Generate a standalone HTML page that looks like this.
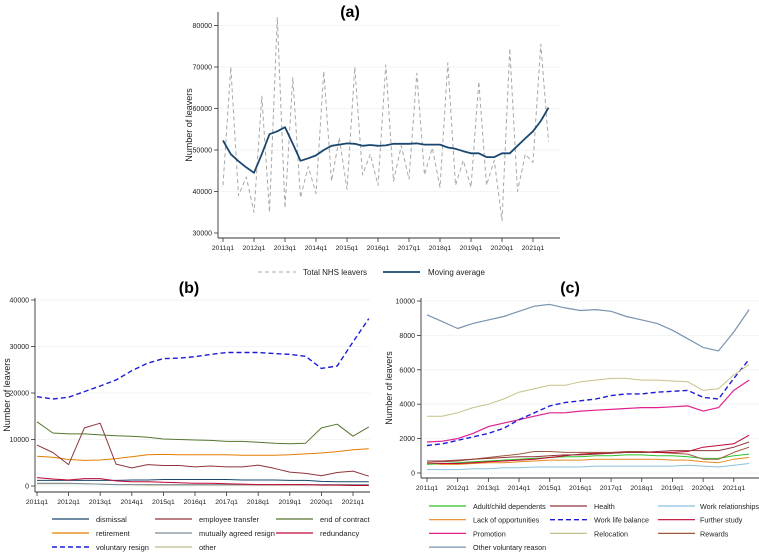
<!DOCTYPE html>
<html><head><meta charset="utf-8"><style>
html,body{margin:0;padding:0;background:#fff;}
svg{display:block;font-family:"Liberation Sans",sans-serif;}
</style></head><body>
<svg id="chart" width="759" height="553" viewBox="0 0 759 553">
<text x="350" y="17" font-size="16" font-weight="bold" text-anchor="middle">(a)</text>
<text x="189" y="293" font-size="16" font-weight="bold" text-anchor="middle">(b)</text>
<text x="570" y="293" font-size="16" font-weight="bold" text-anchor="middle">(c)</text>
<g id="pa"></g>
<g id="pb"></g>
<g id="pc"></g>
</svg>
<script>
const xLabels=["2011q1","2012q1","2013q1","2014q1","2015q1","2016q1","2017q1","2018q1","2019q1","2020q1","2021q1"];
const totalLeavers=[41500,70000,39000,43500,35000,63000,35000,82000,36000,67500,38500,46000,39500,69000,42500,53000,40500,70000,44000,49000,41500,70500,42500,51000,43000,68500,44000,50500,41000,71000,41500,47500,41000,66500,41500,47500,33000,74500,40000,49000,47000,75500,52000];
const movingAvg=[52300,49000,47300,45800,44500,49000,53800,54500,55500,51500,47400,48000,48700,50000,51000,51300,51600,51500,51000,51200,51000,51100,51500,51500,51500,51600,51300,51300,51300,50600,50300,49700,49200,49200,48300,48300,49200,49200,51000,52800,54500,57000,60200];
const ticksA=[30000,40000,50000,60000,70000,80000];
const qIdx=[0,2,4,6,8,10,12,14,16,18,20,22,24,26,28,30,32,34,36,38,40,42];
const bVoluntary=[19200,18700,19100,20300,21500,22800,24800,26400,27400,27500,27800,28300,28700,28700,28700,28500,28300,27900,25300,25800,31000,36000];
const bEndContract=[13800,11400,11200,11200,11000,10800,10700,10500,10100,10000,9900,9800,9600,9600,9400,9200,9100,9200,12500,13300,10700,12700];
const bTransfer=[8800,7200,4600,12500,13500,4700,3900,4600,4400,4400,4100,4300,4100,4100,4500,3800,3000,2700,2200,2900,3200,2100];
const bRetirement=[6400,6200,5700,5500,5600,5900,6300,6700,6800,6700,6700,6700,6700,6600,6600,6600,6700,6900,7100,7400,7800,8000];
const bDismissal=[1200,1200,1200,1200,1200,1200,1300,1300,1400,1400,1400,1400,1400,1300,1300,1300,1200,1200,1000,900,900,900];
const bMutual=[600,600,600,500,400,300,300,300,300,300,300,300,300,300,300,300,300,300,300,300,300,300];
const bRedundancy=[1800,1500,1300,1600,1600,1100,900,900,800,700,600,600,500,400,300,300,300,300,200,200,100,100];
const bOther=[500,500,500,500,400,300,300,200,200,200,200,200,200,200,200,200,200,200,300,300,300,300];
const ticksB=[0,10000,20000,30000,40000];
const cOtherVol=[9200,8800,8400,8700,8900,9100,9400,9700,9800,9600,9450,9500,9400,9100,8900,8700,8300,7800,7300,7100,8200,9500];
const cRelocation=[3300,3300,3500,3800,4000,4300,4700,4900,5100,5100,5300,5400,5500,5500,5400,5400,5350,5300,4800,4900,5700,6300];
const cWorkLife=[1600,1700,1900,2100,2300,2600,3100,3500,3900,4100,4200,4300,4500,4600,4600,4700,4750,4800,4400,4300,5500,6600];
const cPromotion=[1800,1850,2000,2300,2700,2900,3100,3300,3500,3500,3600,3650,3700,3750,3800,3800,3850,3900,3600,3800,4800,5400];
const cHealth=[700,700,750,800,850,900,950,950,1000,1050,1050,1100,1150,1200,1200,1250,1300,1300,1300,1300,1500,1800];
const cFurther=[600,550,550,600,650,700,750,800,900,1000,1100,1150,1150,1200,1200,1200,1200,1250,1500,1600,1700,2200];
const cRewards=[700,650,700,800,900,1000,1100,1250,1250,1200,1200,1200,1200,1250,1250,1200,1150,1100,800,800,1200,1500];
const cDependents=[500,550,600,650,700,750,800,850,900,950,950,1000,1000,1050,1050,1000,1000,950,850,850,1000,1100];
const cLack=[550,500,500,550,600,600,650,700,750,750,750,800,800,800,800,800,750,750,650,600,800,900];
const cRelations=[200,200,200,250,250,300,300,350,350,350,350,400,400,400,400,400,400,450,400,350,450,550];
const ticksC=[0,2000,4000,6000,8000,10000];

const NS="http://www.w3.org/2000/svg";
function mk(parent,tag,attrs,txt){const e=document.createElementNS(NS,tag);for(const k in attrs)e.setAttribute(k,attrs[k]);if(txt!==undefined)e.textContent=txt;parent.appendChild(e);return e;}

function axes(g,o){
  const X=q=>o.x0+q*o.perQ, Y=v=>o.y0-(v-o.ymin)*o.perV;
  o.ticks.forEach(t=>{
    const gl=mk(g,'line',{x1:o.axX,x2:o.right,y1:Y(t),y2:Y(t),stroke:'#eef0f2','stroke-width':0.8});
    
    
    const tk=mk(g,'line',{x1:o.axX-4,x2:o.axX,y1:Y(t),y2:Y(t),stroke:'#333','stroke-width':0.8});
    
    
    const tl=mk(g,'text',{x:o.axX-6,y:Y(t)+2.5,'font-size':7,'text-anchor':'end',fill:'#222'},t);
    
    
  });
  const ya=mk(g,'line',{x1:o.axX,x2:o.axX,y1:o.top,y2:o.axY,stroke:'#333','stroke-width':0.9});
  
  
  const xa=mk(g,'line',{x1:o.axX,x2:o.right,y1:o.axY,y2:o.axY,stroke:'#333','stroke-width':0.9});
  
  
  xLabels.forEach((l,i)=>{
    const x=X(i*4);
    const tk=mk(g,'line',{x1:x,x2:x,y1:o.axY,y2:o.axY+4,stroke:'#333','stroke-width':0.8});
    
    
    const tl=mk(g,'text',{x:x,y:o.axY+12,'font-size':6.8,'text-anchor':'middle',fill:'#222'},l);
    
    
  });
  const yt=mk(g,'text',{x:o.ytX,y:(o.top+o.axY)/2,'font-size':o.ytSize,'text-anchor':'middle',fill:'#222',transform:`rotate(-90 ${o.ytX} ${(o.top+o.axY)/2})`},'Number of leavers');
  
  
  return {X,Y};
}
function series(g,sc,xs,vals,color,w,dash,name){
  const d=vals.map((v,i)=>(i?'L':'M')+sc.X(xs[i]).toFixed(1)+','+sc.Y(v).toFixed(1)).join(' ');
  const p=mk(g,'path',{d:d,fill:'none',stroke:color,'stroke-width':w,'stroke-dasharray':dash||'none','stroke-linejoin':'round'});
  
  
}
function legend(g,x1,x2,tx,y,color,w,dash,label,fs){
  const l=mk(g,'line',{x1:x1,x2:x2,y1:y,y2:y,stroke:color,'stroke-width':w,'stroke-dasharray':dash||'none'});
  
  
  const t=mk(g,'text',{x:tx,y:y+3,'font-size':fs||8,fill:'#222'},label);
  
  
}
const allQ=totalLeavers.map((_,i)=>i);
// Panel a
const ga=document.getElementById('pa');
const sa=axes(ga,{x0:223,perQ:7.75,y0:233,ymin:30000,perV:41.5/10000,ticks:ticksA,axX:218,axY:238,top:12,right:560,ytX:192,ytSize:9});
series(ga,sa,allQ,totalLeavers,'#a8a8a8',1,'4,3','total-nhs-leavers-line');
series(ga,sa,allQ,movingAvg,'#1a476f',1.8,null,'moving-average-line');
legend(ga,258,296,303,272,'#a8a8a8',1,'4,3','Total NHS leavers');
legend(ga,383,420,428,272,'#1a476f',1.8,null,'Moving average');
// Panel b
const gb=document.getElementById('pb');
const sb=axes(gb,{x0:37,perQ:7.9,y0:486,ymin:0,perV:46.5/10000,ticks:ticksB,axX:35,axY:492,top:298,right:370,ytX:10,ytSize:9});
const bSeries=[[bOther,'#bdb98a',1,null,'other'],[bMutual,'#7a8a99',1,null,'mutually agreed resign'],[bDismissal,'#1a476f',1,null,'dismissal'],[bRedundancy,'#c10534',1,null,'redundancy'],[bRetirement,'#e37e00',1,null,'retirement'],[bTransfer,'#90353b',1,null,'employee transfer'],[bEndContract,'#55752f',1,null,'end of contract'],[bVoluntary,'#1c1cd8',1.4,'5,3','voluntary resign']];
bSeries.forEach(s=>series(gb,sb,qIdx,s[0],s[1],s[2],s[3],'series-'+s[4].replace(/ /g,'-')));
const bLeg=[['dismissal','#1a476f',null],['employee transfer','#90353b',null],['end of contract','#55752f',null],['retirement','#e37e00',null],['mutually agreed resign','#7a8a99',null],['redundancy','#c10534',null],['voluntary resign','#1c1cd8','5,3'],['other','#bdb98a',null]];
bLeg.forEach((l,i)=>{const c=i%3,r=Math.floor(i/3);const lx=[52,155,276][c];legend(gb,lx,lx+37,[96,199,320][c],519+r*14,l[1],l[2]?1.4:1.2,l[2],l[0],7.5);});
// Panel c
const gc=document.getElementById('pc');
const scc=axes(gc,{x0:427,perQ:7.67,y0:473,ymin:0,perV:34.4/2000,ticks:ticksC,axX:421,axY:478,top:298,right:760,ytX:392,ytSize:9});
const cSeries=[[cRelations,'#8cc1e0',1,null,'work-relationships'],[cLack,'#e38a20',1,null,'lack-of-opportunities'],[cDependents,'#2bc42b',1,null,'adult-child-dependents'],[cRewards,'#9c5a3c',1,null,'rewards'],[cFurther,'#c10534',1,null,'further-study'],[cHealth,'#90353b',1,null,'health'],[cPromotion,'#e0208f',1.2,null,'promotion'],[cWorkLife,'#1c1cd8',1.4,'5,3','work-life-balance'],[cRelocation,'#c8c08a',1,null,'relocation'],[cOtherVol,'#7a93b0',1.2,null,'other-voluntary-reason']];
cSeries.forEach(s=>series(gc,scc,qIdx,s[0],s[1],s[2],s[3],'series-'+s[4]));
const cLeg=[['Adult/child dependents','#2bc42b',null],['Health','#90353b',null],['Work relationships','#8cc1e0',null],['Lack of opportunities','#e38a20',null],['Work  life balance','#1c1cd8','5,3'],['Further study','#c10534',null],['Promotion','#e0208f',null],['Relocation','#c8c08a',null],['Rewards','#9c5a3c',null],['Other voluntary reason','#7a93b0',null]];
cLeg.forEach((l,i)=>{const c=i%3,r=Math.floor(i/3);const lx=[429,550,658][c];legend(gc,lx,lx+37,[473,594,700][c],506+r*13.7,l[1],l[2]?1.4:1.2,l[2],l[0],7.2);});
</script>
</body></html>
